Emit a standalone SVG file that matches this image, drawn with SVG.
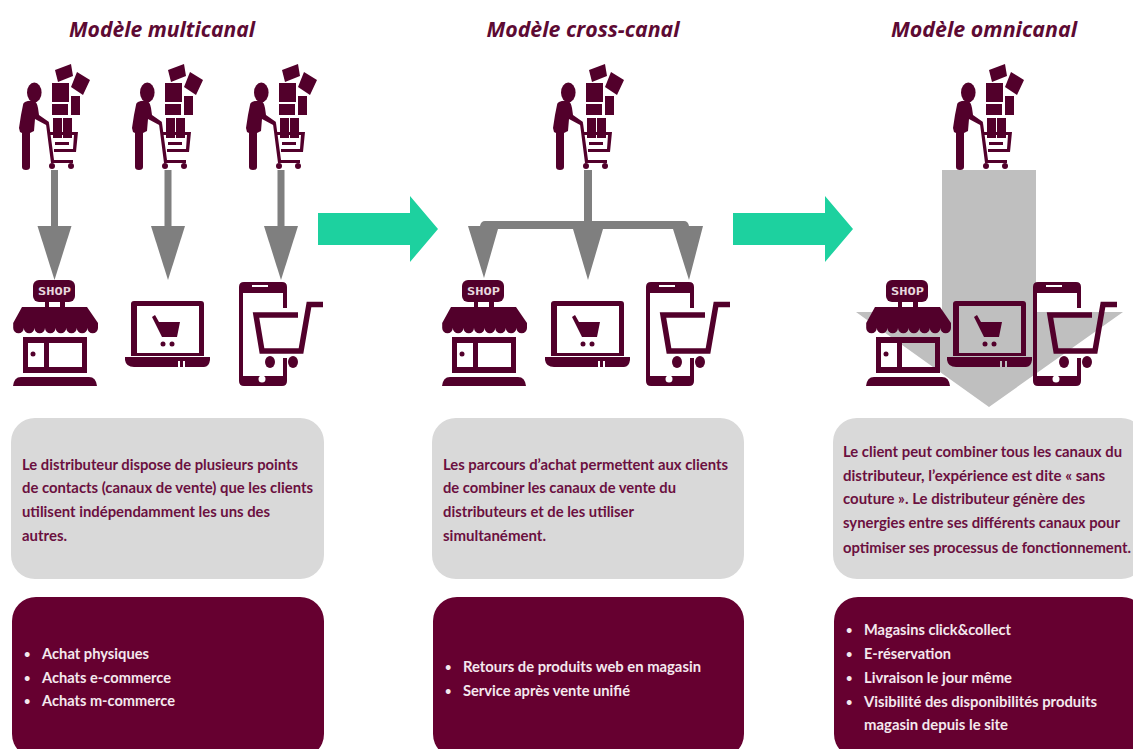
<svg xmlns="http://www.w3.org/2000/svg" width="1133" height="749" viewBox="0 0 1133 749">
<style>
.m{fill:#52002b}
.s{fill:none;stroke:#52002b;stroke-width:5.5}
.t{font:italic bold 21px "Open Sans","Liberation Sans",sans-serif;fill:#5d0a33;text-anchor:middle}
.b{font:bold 15px Lato,"Liberation Sans",sans-serif;fill:#6b1040}
.w{font:bold 15px Lato,"Liberation Sans",sans-serif;fill:#f4e8ee}
.u{font:bold 11px Lato,"Liberation Sans",sans-serif;fill:#f4e8ee}
.p{font:bold 10px "DejaVu Sans Mono","Liberation Mono",monospace;fill:#e8d8de}
.g{fill:#d9d9d9}.d{fill:#660030}.a{fill:#7f7f7f}.c{fill:#1dd19f}
</style>
<defs>
<g id="shopper" class="m">
<ellipse cx="34.300" cy="92.500" rx="7.300" ry="10"/>
<path d="M25 102q4-2 9-1 3 1 4 7l1 7 10 7-1 4-13-7-1 12-4 2v34q0 3-4 3t-4-3v-34l-2-1-1-4 2-13 2-10q0-2 2-3z"/>
<path d="M46 124l3-1 5 37h19v3h-22z"/>
<circle cx="52" cy="166" r="3"/><circle cx="71" cy="166" r="3"/>
<path d="M49 132h29l-2 20h-22v-3h19l1-14h-24zM55 142h14v3h-14z"/>
<path d="M53 118h9v20h-9zM63 118h9v20h-9z"/>
<path d="M52 83h17v19h-17zM52 104h16v11h-16zM71 96h9v19h-9z"/>
<path d="M55 70l16-6 2 12-15 6zM77 72l13 8-7 15-12-8z"/>
</g>
<g id="shop" class="m">
<rect x="33" y="280" width="42" height="22" rx="6"/>
<text class="p" x="38" y="295" textLength="33" lengthAdjust="spacingAndGlyphs">SHOP</text>
<path d="M45 301h4v7h-4zM60 301h5v7h-5z"/>
<path d="M22 307h65l11 16v5a5.300 5.300 0 0 1-10.600 0a5.300 5.300 0 0 1-10.600 0a5.300 5.300 0 0 1-10.600 0a5.300 5.300 0 0 1-10.600 0a5.300 5.300 0 0 1-10.600 0a5.300 5.300 0 0 1-10.600 0a5.300 5.300 0 0 1-10.600 0a5.300 5.300 0 0 1-10.600 0v-5z"/>
<path fill-rule="evenodd" d="M23 337h64v36h-64zM28 343v24h16v-24zM49 343v24h33v-24z"/>
<circle cx="33" cy="354" r="2.500"/>
<path d="M21 377h68q7 0 8 9h-84q1-9 8-9z"/>
</g>
<g id="laptop" class="m">
<path fill-rule="evenodd" d="M134 301h67q3 0 3 3v52h-73v-52q0-3 3-3zM137 306v47h62v-47z"/>
<path d="M125 357h85v3q-1 7-6 7h-19v-6h-2v6h-3v-6h-2v6h-44q-8 0-9-7z"/>
<path d="M152 317l3-2 4 7h21l-3 15h-15z"/><circle cx="163" cy="344" r="2.500"/><circle cx="172" cy="344" r="2.500"/>
</g>
<g id="phone" class="m">
<path fill-rule="evenodd" d="M244 282h38q5 0 5 5v21h-4v-15h-40v83h40v-18h4v23q0 5-5 5h-38q-5 0-5-5v-94q0-5 5-5z"/>
<rect x="252" y="285" width="16" height="2" fill="#fff"/>
<circle cx="262" cy="379" r="3.500" fill="#fff"/>
<path class="s" d="M323 304.500h-14l-8 46.500h-39l-6-36h42"/>
<ellipse cx="270" cy="362" rx="5" ry="6"/><ellipse cx="293" cy="362" rx="5" ry="6"/>
</g>
<g id="down" class="a"><rect x="-3.500" y="0" width="7" height="58"/><path d="M-17 56h34l-17 54z"/></g>
</defs>
<g id="title-multicanal"><text class="t" x="162" y="37" textLength="186" lengthAdjust="spacingAndGlyphs">Modèle multicanal</text></g>
<g id="title-cross"><text class="t" x="583" y="37" textLength="193" lengthAdjust="spacingAndGlyphs">Modèle cross-canal</text></g>
<g id="title-omni"><text class="t" x="984" y="37" textLength="186" lengthAdjust="spacingAndGlyphs">Modèle omnicanal</text></g>
<g id="omni-arrow"><path fill="#bfbfbf" d="M942 170h94v142h87l-134 95-133-95h86z"/></g>
<g id="connectors">
<use href="#down" x="54.500" y="170"/><use href="#down" x="168" y="170"/><use href="#down" x="281" y="170"/>
<path class="a" d="M584 170h8v51h92q4 0 5 5h14l-14 54-16-51H603l-15 51-15-51H498l-14 49-16-52h12q1-5 5-5h99z"/>
<path class="c" d="M318 213h92v-17l28 33-28 33v-17h-92z"/>
<path class="c" d="M733 213h92v-17l28 33-28 33v-17h-92z"/>
</g>
<g id="shopper1"><use href="#shopper"/></g>
<g id="shopper2"><use href="#shopper" x="113"/></g>
<g id="shopper3"><use href="#shopper" x="227"/></g>
<g id="shopper4"><use href="#shopper" x="534"/></g>
<g id="shopper5"><use href="#shopper" x="934"/></g>
<g id="shop1"><use href="#shop"/></g><g id="laptop1"><use href="#laptop"/></g><g id="phone1"><use href="#phone"/></g>
<g id="shop2"><use href="#shop" x="429"/></g><g id="laptop2"><use href="#laptop" x="420"/></g><g id="phone2"><use href="#phone" x="407"/></g>
<g id="shop3"><use href="#shop" x="853"/></g><g id="laptop3"><use href="#laptop" x="822"/></g><g id="phone3"><use href="#phone" x="794"/></g>
<g id="box1"><rect class="g" x="11" y="418" width="313" height="161" rx="24"/>
<text class="b" x="22" y="470" textLength="276" lengthAdjust="spacingAndGlyphs">Le distributeur dispose de plusieurs points</text>
<text class="b" x="22" y="493" textLength="291" lengthAdjust="spacingAndGlyphs">de contacts (canaux de vente) que les clients</text>
<text class="b" x="22" y="517" textLength="248" lengthAdjust="spacingAndGlyphs">utilisent indépendamment les uns des</text>
<text class="b" x="22" y="541" textLength="45" lengthAdjust="spacingAndGlyphs">autres.</text></g>
<g id="box2"><rect class="g" x="432" y="418" width="312" height="161" rx="24"/>
<text class="b" x="443" y="470" textLength="285" lengthAdjust="spacingAndGlyphs">Les parcours d’achat permettent aux clients</text>
<text class="b" x="443" y="493" textLength="233" lengthAdjust="spacingAndGlyphs">de combiner les canaux de vente du</text>
<text class="b" x="443" y="517" textLength="191" lengthAdjust="spacingAndGlyphs">distributeurs et de les utiliser</text>
<text class="b" x="443" y="541" textLength="103" lengthAdjust="spacingAndGlyphs">simultanément.</text></g>
<g id="box3"><rect class="g" x="833" y="418" width="312" height="161" rx="24"/>
<text class="b" x="843" y="457" textLength="279" lengthAdjust="spacingAndGlyphs">Le client peut combiner tous les canaux du</text>
<text class="b" x="843" y="481" textLength="262" lengthAdjust="spacingAndGlyphs">distributeur, l’expérience est dite « sans</text>
<text class="b" x="843" y="504" textLength="242" lengthAdjust="spacingAndGlyphs">couture ». Le distributeur génère des</text>
<text class="b" x="843" y="528" textLength="277" lengthAdjust="spacingAndGlyphs">synergies entre ses différents canaux pour</text>
<text class="b" x="843" y="553" textLength="288" lengthAdjust="spacingAndGlyphs">optimiser ses processus de fonctionnement.</text></g>
<g id="panel1"><rect class="d" x="12" y="597" width="312" height="161" rx="24"/>
<text class="u" x="24" y="658">•</text><text class="w" x="42" y="659" textLength="107" lengthAdjust="spacingAndGlyphs">Achat physiques</text>
<text class="u" x="24" y="682">•</text><text class="w" x="42" y="683" textLength="129" lengthAdjust="spacingAndGlyphs">Achats e-commerce</text>
<text class="u" x="24" y="705">•</text><text class="w" x="42" y="706" textLength="133" lengthAdjust="spacingAndGlyphs">Achats m-commerce</text></g>
<g id="panel2"><rect class="d" x="433" y="597" width="311" height="161" rx="24"/>
<text class="u" x="445" y="671">•</text><text class="w" x="463" y="672" textLength="238" lengthAdjust="spacingAndGlyphs">Retours de produits web en magasin</text>
<text class="u" x="445" y="695">•</text><text class="w" x="463" y="696" textLength="167" lengthAdjust="spacingAndGlyphs">Service après vente unifié</text></g>
<g id="panel3"><rect class="d" x="834" y="597" width="312" height="161" rx="24"/>
<text class="u" x="846" y="634">•</text><text class="w" x="864" y="635" textLength="147" lengthAdjust="spacingAndGlyphs">Magasins click&amp;collect</text>
<text class="u" x="846" y="658">•</text><text class="w" x="864" y="659" textLength="87" lengthAdjust="spacingAndGlyphs">E-réservation</text>
<text class="u" x="846" y="682">•</text><text class="w" x="864" y="683" textLength="148" lengthAdjust="spacingAndGlyphs">Livraison le jour même</text>
<text class="u" x="846" y="706">•</text><text class="w" x="864" y="707" textLength="233" lengthAdjust="spacingAndGlyphs">Visibilité des disponibilités produits</text>
<text class="w" x="864" y="730" textLength="144" lengthAdjust="spacingAndGlyphs">magasin depuis le site</text></g>
</svg>
